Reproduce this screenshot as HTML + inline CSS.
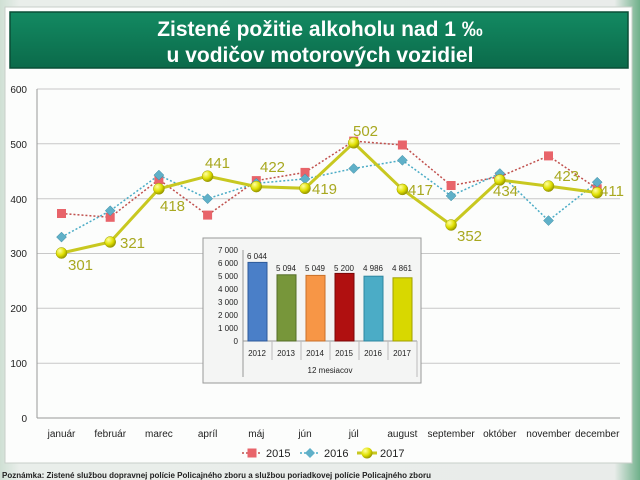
<!DOCTYPE html>
<html><head><meta charset="utf-8"><style>
html,body{margin:0;padding:0;width:640px;height:480px;overflow:hidden;background:linear-gradient(90deg,#cfe0d4 0%,#e9eeea 3%,#e9ecea 96%,#6fb08a 100%);font-family:"Liberation Sans","DejaVu Sans",sans-serif}
</style></head><body>
<svg width="640" height="480" viewBox="0 0 640 480" xmlns="http://www.w3.org/2000/svg" style="position:absolute;left:0;top:0">
<defs>
<linearGradient id="tg" x1="0" y1="0" x2="0" y2="1"><stop offset="0" stop-color="#138a62"/><stop offset="1" stop-color="#0b6a4a"/></linearGradient>
<radialGradient id="yb" cx="0.35" cy="0.3" r="0.7"><stop offset="0" stop-color="#ffffa0"/><stop offset="0.6" stop-color="#e0e000"/><stop offset="1" stop-color="#9a9a00"/></radialGradient>
</defs>
<rect x="5" y="7" width="627" height="456" fill="#fcfdfc" stroke="#c8cfc9"/>
<rect x="10" y="12" width="618" height="56" fill="url(#tg)" stroke="#0a4e36" stroke-width="1.5"/>
<text x="320" y="36" text-anchor="middle" fill="#fff" font-size="21" font-weight="bold">Zistené požitie alkoholu nad 1 ‰</text>
<text x="320" y="62" text-anchor="middle" fill="#fff" font-size="21" font-weight="bold">u vodičov motorových vozidiel</text>
<g stroke="#c8c8c8" stroke-width="1">
<line x1="37" y1="89" x2="620" y2="89"/><line x1="37" y1="143.8" x2="620" y2="143.8"/><line x1="37" y1="198.7" x2="620" y2="198.7"/><line x1="37" y1="253.5" x2="620" y2="253.5"/><line x1="37" y1="308.3" x2="620" y2="308.3"/><line x1="37" y1="363.2" x2="620" y2="363.2"/>
<line x1="37" y1="418" x2="620" y2="418" stroke="#999"/><line x1="37" y1="89" x2="37" y2="418" stroke="#999"/>
</g>
<g font-size="10" fill="#222" text-anchor="end">
<text x="27" y="93">600</text><text x="27" y="148">500</text><text x="27" y="203">400</text><text x="27" y="257">300</text><text x="27" y="312">200</text><text x="27" y="367">100</text><text x="27" y="422">0</text>
</g>
<g font-size="10" fill="#222" text-anchor="middle">
<text x="61.5" y="437">január</text><text x="110.2" y="437">február</text><text x="158.9" y="437">marec</text><text x="207.6" y="437">apríl</text><text x="256.3" y="437">máj</text><text x="305" y="437">jún</text><text x="353.7" y="437">júl</text><text x="402.4" y="437">august</text><text x="451.1" y="437">september</text><text x="499.8" y="437">október</text><text x="548.5" y="437">november</text><text x="597.2" y="437">december</text>
</g>
<polyline fill="none" stroke="#c0504d" stroke-width="1.5" stroke-dasharray="2,2" points="61.5,213.5 110.2,217.3 158.9,179.5 207.6,215.1 256.3,180.6 305,172.4 353.7,141.1 402.4,145 451.1,185.5 499.8,176.7 548.5,155.9 597.2,188.8"/>
<g fill="#e8646a"><rect x="57" y="209" width="9" height="9"/><rect x="105.7" y="212.8" width="9" height="9"/><rect x="154.4" y="175" width="9" height="9"/><rect x="203.1" y="210.6" width="9" height="9"/><rect x="251.8" y="176.1" width="9" height="9"/><rect x="300.5" y="167.9" width="9" height="9"/><rect x="349.2" y="136.6" width="9" height="9"/><rect x="397.9" y="140.5" width="9" height="9"/><rect x="446.6" y="181" width="9" height="9"/><rect x="495.3" y="172.2" width="9" height="9"/><rect x="544" y="151.4" width="9" height="9"/><rect x="592.7" y="184.3" width="9" height="9"/></g>
<polyline fill="none" stroke="#4bacc6" stroke-width="1.5" stroke-dasharray="2,2" points="61.5,237.1 110.2,210.7 158.9,175.1 207.6,198.7 256.3,183.3 305,178.9 353.7,168.5 402.4,160.3 451.1,195.9 499.8,173.5 548.5,220.6 597.2,182.2"/>
<g fill="#5fb0c8" stroke="#3a8aa0" stroke-width="0.5">
<path d="M61.5 232.1l5 5-5 5-5-5z"/><path d="M110.2 205.7l5 5-5 5-5-5z"/><path d="M158.9 170.1l5 5-5 5-5-5z"/><path d="M207.6 193.7l5 5-5 5-5-5z"/><path d="M256.3 178.3l5 5-5 5-5-5z"/><path d="M305 173.9l5 5-5 5-5-5z"/><path d="M353.7 163.5l5 5-5 5-5-5z"/><path d="M402.4 155.3l5 5-5 5-5-5z"/><path d="M451.1 190.9l5 5-5 5-5-5z"/><path d="M499.8 168.5l5 5-5 5-5-5z"/><path d="M548.5 215.6l5 5-5 5-5-5z"/><path d="M597.2 177.2l5 5-5 5-5-5z"/></g>
<polyline fill="none" stroke="#c8c820" stroke-width="3" points="61.5,253 110.2,242 158.9,188.8 207.6,176.2 256.3,186.6 305,188.3 353.7,142.8 402.4,189.4 451.1,225 499.8,180 548.5,186.1 597.2,192.6"/>
<g fill="url(#yb)" stroke="#9a9a00" stroke-width="0.5">
<circle cx="61.5" cy="253" r="5.5"/><circle cx="110.2" cy="242" r="5.5"/><circle cx="158.9" cy="188.8" r="5.5"/><circle cx="207.6" cy="176.2" r="5.5"/><circle cx="256.3" cy="186.6" r="5.5"/><circle cx="305" cy="188.3" r="5.5"/><circle cx="353.7" cy="142.8" r="5.5"/><circle cx="402.4" cy="189.4" r="5.5"/><circle cx="451.1" cy="225" r="5.5"/><circle cx="499.8" cy="180" r="5.5"/><circle cx="548.5" cy="186.1" r="5.5"/><circle cx="597.2" cy="192.6" r="5.5"/></g>
<g font-size="15" fill="#a8a820">
<text x="68" y="270">301</text><text x="120" y="248">321</text><text x="160" y="211">418</text><text x="205" y="168">441</text><text x="260" y="172">422</text><text x="312" y="194">419</text><text x="353" y="136">502</text><text x="408" y="195">417</text><text x="457" y="241">352</text><text x="493" y="196">434</text><text x="554" y="181">423</text><text x="600" y="196">411</text>
</g>
<g font-size="11" fill="#222">
<line x1="242" y1="453" x2="262" y2="453" stroke="#c0504d" stroke-width="1.5" stroke-dasharray="2,2"/><rect x="247.5" y="448.5" width="9" height="9" fill="#e8646a"/><text x="266" y="457">2015</text>
<line x1="300" y1="453" x2="320" y2="453" stroke="#4bacc6" stroke-width="1.5" stroke-dasharray="2,2"/><path d="M310 448l5 5-5 5-5-5z" fill="#5fb0c8"/><text x="324" y="457">2016</text>
<line x1="357" y1="453" x2="377" y2="453" stroke="#c8c820" stroke-width="3"/><circle cx="367" cy="453" r="5.5" fill="url(#yb)"/><text x="380" y="457">2017</text>
</g>
<text x="2" y="478" font-size="8" font-weight="bold" fill="#222">Poznámka: Zistené službou dopravnej polície Policajného zboru a službou poriadkovej polície Policajného zboru</text>
<g>
<rect x="203" y="238" width="218" height="145" fill="#f4f5f4" stroke="#999"/>
<line x1="243" y1="250" x2="243" y2="377" stroke="#999"/>
<line x1="243" y1="341" x2="417" y2="341" stroke="#999"/>
<g stroke="#bbb"><line x1="272" y1="341" x2="272" y2="360"/><line x1="301" y1="341" x2="301" y2="360"/><line x1="330" y1="341" x2="330" y2="360"/><line x1="359" y1="341" x2="359" y2="360"/><line x1="388" y1="341" x2="388" y2="360"/><line x1="417" y1="341" x2="417" y2="377"/></g>
<g font-size="8" fill="#222" text-anchor="end">
<text x="238" y="253">7 000</text><text x="238" y="266">6 000</text><text x="238" y="279">5 000</text><text x="238" y="292">4 000</text><text x="238" y="305">3 000</text><text x="238" y="318">2 000</text><text x="238" y="331">1 000</text><text x="238" y="344">0</text>
</g>
<rect x="248" y="262.4" width="19" height="78.6" fill="#4a7fc8" stroke="#2e5a9a"/>
<rect x="277" y="274.8" width="19" height="66.2" fill="#77963a" stroke="#556d28"/>
<rect x="306" y="275.4" width="19" height="65.6" fill="#f79646" stroke="#c8702a"/>
<rect x="335" y="273.4" width="19" height="67.6" fill="#b01010" stroke="#7a0808"/>
<rect x="364" y="276.2" width="19" height="64.8" fill="#4bacc6" stroke="#2e86a0"/>
<rect x="393" y="277.8" width="19" height="63.2" fill="#d8d800" stroke="#a0a000"/>
<g font-size="8" fill="#222" text-anchor="middle">
<text x="257" y="259">6 044</text><text x="286" y="271">5 094</text><text x="315" y="271">5 049</text><text x="344" y="271">5 200</text><text x="373" y="271">4 986</text><text x="402" y="271">4 861</text>
<text x="257" y="356">2012</text><text x="286" y="356">2013</text><text x="315" y="356">2014</text><text x="344" y="356">2015</text><text x="373" y="356">2016</text><text x="402" y="356">2017</text>
<text x="330" y="373">12 mesiacov</text>
</g>
</g>
</svg>
</body></html>
